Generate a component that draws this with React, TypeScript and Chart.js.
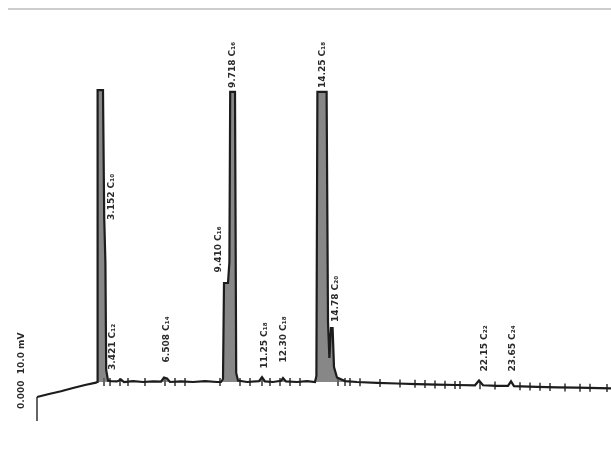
import React, { useEffect, useRef } from "react";
import { Chart, registerables } from "chart.js";

Chart.register(...registerables);

// Chromatogram trace: retention time (min) and detector signal
const traceTime = [
  0, 0.6, 1.2, 1.8, 2.4, 2.95,
  3.0, 3.03, 3.3, 3.36, 3.42, 3.46, 3.55, 3.7,
  4.0, 4.2, 4.35, 4.8, 5.3, 5.8, 6.2, 6.35, 6.5, 6.65, 7.2, 7.8, 8.4, 9.0, 9.2,
  9.3, 9.35, 9.55, 9.62, 9.66, 9.9, 9.96, 10.05,
  10.5, 11.1, 11.25, 11.4, 11.8, 12.2, 12.3, 12.45, 13.0, 13.5, 13.9,
  13.97, 14.02, 14.48, 14.55, 14.62, 14.7, 14.78, 14.85, 15.0, 15.4,
  16, 17, 18, 19, 20, 21, 21.9, 22.1, 22.3, 23.0, 23.55, 23.7, 23.85, 25, 26, 27, 28.7,
];
const traceSignal = [
  -5, -4, -3.1, -2, -1, -0.2,
  0, 97.3, 97.3, 55, 40, 4, 0.5, 0.3,
  0.2, 0.8, 0, 0.3, 0, 0.2, 0.1, 1.5, 1.2, 0, 0.2, 0, 0.3, 0, 0,
  1, 33, 33, 40, 96.7, 96.7, 3, 0.5,
  0, 0.3, 1.6, 0.2, 0, 0.4, 1.3, 0.2, 0, 0.3, 0,
  2, 96.7, 96.7, 20, 8, 18, 18, 5, 1.5, 0.3,
  0, -0.3, -0.5, -0.7, -0.9, -1.0, -1.1, 0.5, -1.1, -1.3, -1.3, 0.2, -1.4, -1.6, -1.8, -1.9, -2.1,
];

// Start-of-run marker
const markerTime = [0, 0];
const markerSignal = [-5, -13];

// Integration tick marks along the baseline
const tickTime = [
  3.35, 3.65, 4.15, 4.55, 5.4, 6.4, 6.9, 7.4, 9.15, 10.15, 10.65, 11.25, 11.65, 12.15, 12.65, 13.15,
  15.05, 15.4, 15.65, 16.15, 17.15, 18.15, 18.9, 19.4, 19.9, 20.4, 20.9, 21.15, 22.15, 22.9, 24.15, 24.65, 25.15, 25.65, 26.4, 27.15, 27.65, 28.5,
];
const tickSignal = [
  0, 0, 0, 0, 0, 0, 0, 0, 0, 0, 0, 0, 0, 0, 0, 0,
  0, 0, 0, -0.1, -0.3, -0.5, -0.6, -0.7, -0.8, -0.9, -1.0, -1.0, -1.1, -1.2, -1.4, -1.5, -1.6, -1.7, -1.8, -1.9, -1.9, -2.0,
];

// Peak annotations (rotated text), anchored at bottom of the text
const labelTime = [3.75, 3.8, 6.5, 9.8, 9.1, 11.4, 12.35, 14.3, 14.95, 22.4, 23.8, -0.75];
const labelSignal = [54, 4, 6.5, 98, 36.5, 4.5, 6.5, 98, 20, 3.5, 3.5, -9];
const labelText = [
  "3.152 C\u2081\u2080",
  "3.421 C\u2081\u2082",
  "6.508 C\u2081\u2084",
  "9.718 C\u2081\u2086",
  "9.410 C\u2081\u2086",
  "11.25 C\u2081\u2088",
  "12.30 C\u2081\u2088",
  "14.25 C\u2081\u2088",
  "14.78 C\u2082\u2080",
  "22.15 C\u2082\u2082",
  "23.65 C\u2082\u2084",
  "0.000  10.0 mV",
];

const labelPlugin = {
  id: "peakLabels",
  afterDatasetsDraw(chart: any) {
    const { ctx, scales } = chart;
    ctx.save();
    ctx.fillStyle = "#2a2a2a";
    ctx.font = "bold 9px 'DejaVu Sans'";
    ctx.textAlign = "left";
    ctx.textBaseline = "middle";
    for (let i = 0; i < labelText.length; i++) {
      const x = scales.x.getPixelForValue(labelTime[i]);
      const y = scales.y.getPixelForValue(labelSignal[i]);
      ctx.save();
      ctx.translate(x, y);
      ctx.rotate(-Math.PI / 2);
      ctx.fillText(labelText[i], 0, 0);
      ctx.restore();
    }
    ctx.restore();
  },
};

export default function App() {
  const ref = useRef<HTMLCanvasElement | null>(null);

  useEffect(() => {
    if (!ref.current) return;
    const chart = new Chart(ref.current, {
      type: "line",
      data: {
        datasets: [
          {
            label: "Signal",
            data: traceTime.map((t, i) => ({ x: t, y: traceSignal[i] })),
            borderColor: "#1c1c1c",
            borderWidth: 2.2,
            pointRadius: 0,
            tension: 0,
            fill: { target: "origin", above: "rgba(95,95,95,0.75)", below: "rgba(0,0,0,0)" },
          } as any,
          {
            label: "Start",
            data: markerTime.map((t, i) => ({ x: t, y: markerSignal[i] })),
            borderColor: "#333",
            borderWidth: 1.5,
            pointRadius: 0,
            fill: false,
          },
          {
            label: "Ticks",
            type: "scatter",
            data: tickTime.map((t, i) => ({ x: t, y: tickSignal[i] })),
            pointStyle: "line",
            rotation: 90,
            pointRadius: 4,
            borderColor: "#333",
            borderWidth: 1.5,
            showLine: false,
          } as any,
        ],
      },
      options: {
        responsive: false,
        animation: false,
        layout: { padding: 0, autoPadding: false },
        scales: {
          x: { type: "linear", min: -1.85, max: 28.7, display: false },
          y: { min: -22.67, max: 127.33, display: false },
        },
        plugins: { legend: { display: false }, tooltip: { enabled: false } },
      },
      plugins: [labelPlugin],
    });
    return () => chart.destroy();
  }, []);

  return (
    <div style={{ position: "absolute", left: 0, top: 0, width: 611, height: 450, background: "#fff" }}>
      <div
        style={{
          position: "absolute",
          left: 8,
          top: 8,
          width: 603,
          height: 0,
          borderTop: "2px solid #cdcdcd",
        }}
      />
      <canvas ref={ref} width={611} height={450} style={{ position: "absolute", left: 0, top: 0 }} />
    </div>
  );
}
